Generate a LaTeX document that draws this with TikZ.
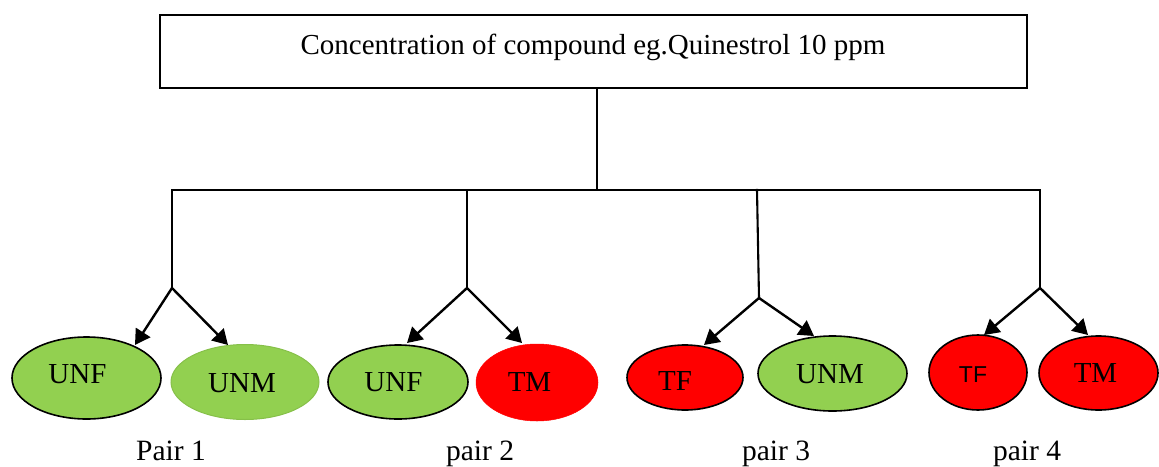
\documentclass[tikz,border=0pt]{standalone}
\usepackage{fontspec}
\setmainfont{Liberation Serif}
\newfontfamily\arialfont{Liberation Sans}
\usetikzlibrary{arrows.meta,shapes.geometric}
\definecolor{leaf}{HTML}{92D050}
\definecolor{leafedge}{HTML}{86C049}
\definecolor{hot}{HTML}{FF0000}
\tikzset{
  wire/.style={line width=2.1pt, line cap=rect},
  fork/.style={line width=2.4pt, -{Triangle[length=15pt,width=17pt]}},
  egg/.style={ellipse, inner sep=0pt, draw=black, line width=1.6pt},
  lab/.style={anchor=base, inner sep=0pt, font=\fontsize{29}{34}\selectfont},
  pairlab/.style={anchor=base, inner sep=0pt, font=\fontsize{29.5}{34}\selectfont},
}
\begin{document}
\begin{tikzpicture}[x=1pt,y=-1pt]
\useasboundingbox (0,0) rectangle (1159,466);

% title box
\node[draw, line width=2.4pt, minimum width=867pt, minimum height=73pt, inner sep=0pt]
  (box) at (593.5,51.5) {};
\node[lab] (title) at (593,54) {Concentration of compound eg.Quinestrol 10 ppm};

% tree skeleton
\coordinate (hub) at (597,190);
\coordinate (j1) at (172,288);
\coordinate (j2) at (467,288);
\coordinate (b3) at (757,190);
\coordinate (j3) at (759,298);
\coordinate (j4) at (1040,288);
\draw[wire] (hub |- box.south) -- (hub);
\draw[wire] (j1 |- hub) -- (j4 |- hub);
\draw[wire] (j1 |- hub) -- (j1);
\draw[wire] (j2 |- hub) -- (j2);
\draw[wire] (b3) -- (j3);
\draw[wire] (j4 |- hub) -- (j4);

% ellipses
\node[egg, fill=leaf, minimum width=149pt, minimum height=82pt] (e1) at (86.5,378) {};
\node[egg, fill=leaf, draw=leafedge, line width=1pt, minimum width=148pt, minimum height=75pt] (e2) at (245,382) {};
\node[egg, fill=leaf, minimum width=140pt, minimum height=74pt] (e3) at (398,382) {};
\node[egg, fill=hot, draw=hot, line width=0.5pt, minimum width=122pt, minimum height=77pt] (e4) at (537,382.5) {};
\node[egg, fill=hot, minimum width=116pt, minimum height=65pt] (e5) at (685,377.5) {};
\node[egg, fill=leaf, minimum width=149pt, minimum height=75pt] (e6) at (832.5,373.5) {};
\node[egg, fill=hot, minimum width=98pt, minimum height=75pt] (e7) at (978,372.5) {};
\node[egg, fill=hot, minimum width=119pt, minimum height=74pt] (e8) at (1098.5,373) {};

% ellipse texts
\node[lab] (t1) at (77.5,383) {UNF};
\node[lab] (t2) at (242,392) {UNM};
\node[lab] (t3) at (393.5,391) {UNF};
\node[lab] (t4) at (529.5,391) {TM};
\node[lab] (t5) at (675,390) {TF};
\node[lab] (t6) at (830,383) {UNM};
\node[lab, font=\arialfont\fontsize{23}{28}\selectfont] (t7) at (973,382) {TF};
\node[lab] (t8) at (1095.5,382) {TM};

% arrow tips
\coordinate (a1) at (135,345);
\coordinate (a2) at (228,345);
\coordinate (a3) at (407,343);
\coordinate (a4) at (522,343);
\coordinate (a5) at (704,345);
\coordinate (a6) at (814,336);
\coordinate (a7) at (984,335);
\coordinate (a8) at (1088,335);
\draw[fork] (j1) -- (a1);
\draw[fork] (j1) -- (a2);
\draw[fork] (j2) -- (a3);
\draw[fork] (j2) -- (a4);
\draw[fork] (j3) -- (a5);
\draw[fork] (j3) -- (a6);
\draw[fork] (j4) -- (a7);
\draw[fork] (j4) -- (a8);

% pair captions
\node[pairlab] (p1) at (171,460) {Pair 1};
\node[pairlab] (p2) at (480,460) {pair 2};
\node[pairlab] (p3) at (776,460) {pair 3};
\node[pairlab] (p4) at (1027,460) {pair 4};
\end{tikzpicture}
\end{document}
